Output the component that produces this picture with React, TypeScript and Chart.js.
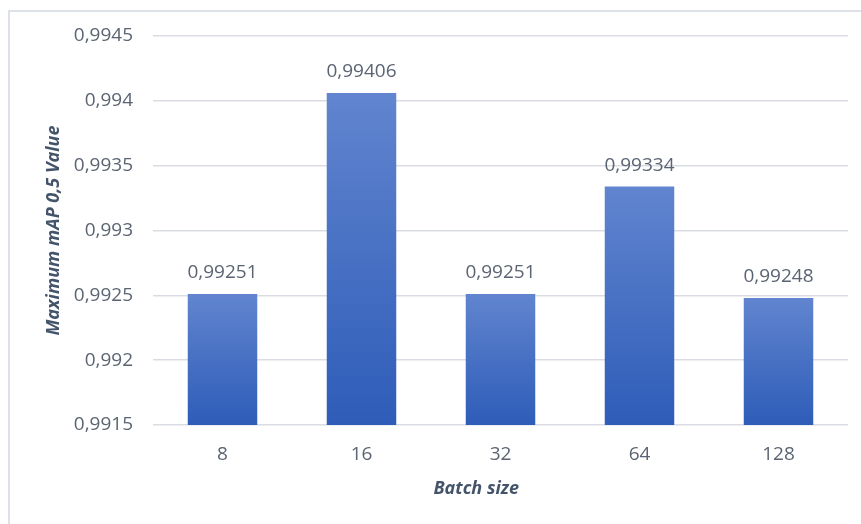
import React, { useEffect, useRef } from "react";
import { Chart, registerables } from "chart.js";

Chart.register(...registerables);

const CATEGORIES = ["8", "16", "32", "64", "128"];
const VALUES = [0.99251, 0.99406, 0.99251, 0.99334, 0.99248];
const VALUE_LABELS = ["0,99251", "0,99406", "0,99251", "0,99334", "0,99248"];
const Y_TICK_LABELS = ["0,9915", "0,992", "0,9925", "0,993", "0,9935", "0,994", "0,9945"];
const Y_TITLE = "Maximum mAP 0,5 Value";
const X_TITLE = "Batch size";

const FONT = "'Open Sans', 'Noto Sans', sans-serif";
const TICK_COLOR = "#5b6472";
const TITLE_COLOR = "#44546a";

export default function App() {
  const ref = useRef<HTMLCanvasElement>(null);

  useEffect(() => {
    document.body.style.margin = "0";
    const canvas = ref.current;
    if (!canvas) return;

    const framePlugin = {
      id: "frame",
      beforeDraw(chart: any) {
        const ctx = chart.ctx;
        ctx.save();
        ctx.fillStyle = "#ffffff";
        ctx.fillRect(0, 0, chart.width, chart.height);
        ctx.strokeStyle = "#dde1e8";
        ctx.lineWidth = 2;
        ctx.beginPath();
        ctx.moveTo(9, chart.height + 5);
        ctx.lineTo(9, 11);
        ctx.lineTo(chart.width + 5, 11);
        ctx.stroke();
        ctx.restore();
      },
      afterDraw(chart: any) {
        const ctx = chart.ctx;
        const meta = chart.getDatasetMeta(0);
        ctx.save();
        ctx.font = `19px ${FONT}`;
        ctx.fillStyle = TICK_COLOR;
        ctx.textAlign = "center";
        ctx.textBaseline = "middle";
        meta.data.forEach((bar: any, i: number) => {
          ctx.fillText(VALUE_LABELS[i], bar.x, bar.y - 21);
        });
        // x-axis title
        const ca = chart.chartArea;
        ctx.font = `italic bold 18px ${FONT}`;
        ctx.fillStyle = TITLE_COLOR;
        ctx.fillText(X_TITLE, ca.left + (ca.right - ca.left) * 0.465, 489);
        ctx.restore();
      },
    };

    const chart = new Chart(canvas, {
      type: "bar",
      data: {
        labels: CATEGORIES,
        datasets: [
          {
            data: VALUES,
            backgroundColor: (context: any) => {
              const ch = context.chart;
              const ca = ch.chartArea;
              if (!ca) return "#4472c4";
              const v = context.raw as number;
              const yTop = ch.scales.y.getPixelForValue(v);
              const g = ch.ctx.createLinearGradient(0, yTop, 0, ca.bottom);
              g.addColorStop(0, "#6185cf");
              g.addColorStop(1, "#2e5cb8");
              return g;
            },
            borderWidth: 0,
            barPercentage: 0.5,
            categoryPercentage: 1,
          },
        ],
      },
      options: {
        responsive: false,
        animation: false,
        layout: { padding: { left: 43, top: 36, right: 13, bottom: 25 } },
        plugins: {
          legend: { display: false },
          tooltip: { enabled: false },
        },
        scales: {
          x: {
            grid: { display: false, drawTicks: false },
            border: { display: false },
            ticks: {
              color: TICK_COLOR,
              font: { family: FONT, size: 19 },
              padding: 18,
            },
            title: { display: false },
            afterFit: (scale: any) => {
              scale.height = 74;
            },
          },
          y: {
            min: 0.9915,
            max: 0.9945,
            grid: { color: "#d9dde3", lineWidth: 1.5, drawTicks: false },
            border: { display: false },
            ticks: {
              stepSize: 0.0005,
              color: TICK_COLOR,
              font: { family: FONT, size: 19 },
              padding: 20,
              callback: (_v: any, i: number) => Y_TICK_LABELS[i],
            },
            title: {
              display: true,
              text: Y_TITLE,
              color: TITLE_COLOR,
              font: { family: FONT, size: 18, style: "italic", weight: "bold" },
              padding: 0,
            },
            afterFit: (scale: any) => {
              scale.width = 110;
            },
          },
        },
      },
      plugins: [framePlugin],
    });

    return () => chart.destroy();
  }, []);

  return (
    <div style={{ width: 861, height: 524 }}>
      <canvas ref={ref} width={861} height={524} style={{ display: "block" }} />
    </div>
  );
}
